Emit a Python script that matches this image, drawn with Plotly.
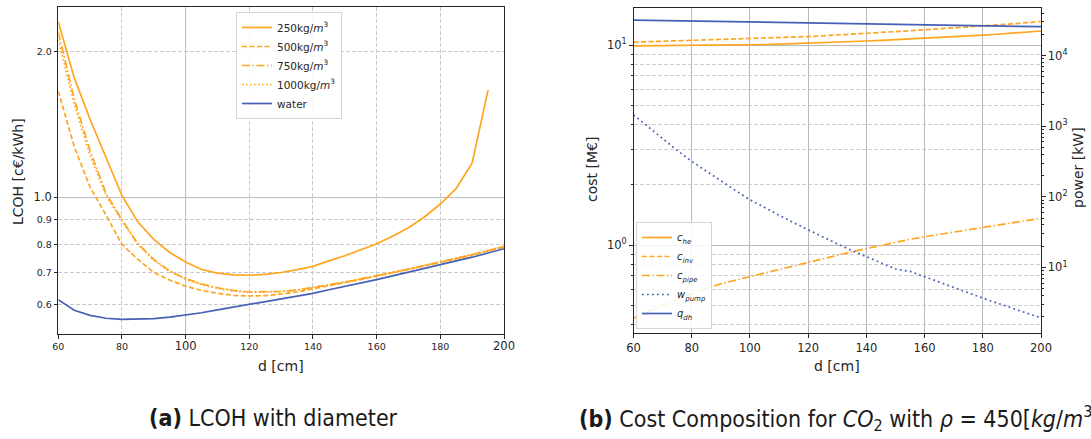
import plotly.graph_objects as go

# ---------------- data ----------------
d_cm = [60, 65, 70, 75, 80, 85, 90, 95, 100, 105, 110, 115, 120, 125, 130,
        135, 140, 145, 150, 155, 160, 165, 170, 175, 180, 185, 190, 195, 200]

lcoh_250 = [2.31, 1.77, 1.45, 1.21, 1.01, 0.89, 0.82, 0.77, 0.736, 0.71, 0.698, 0.692, 0.691, 0.694,
            0.70, 0.71, 0.721, 0.74, 0.758, 0.78, 0.803, 0.832, 0.866, 0.912, 0.97, 1.045, 1.18, 1.67, None]
lcoh_500 = [1.66, 1.275, 1.05, 0.92, 0.80, 0.745, 0.70, 0.675, 0.656, 0.643, 0.634, 0.628, 0.626, 0.627,
            0.632, 0.638, 0.648, 0.657, 0.667, 0.677, 0.688, 0.699, 0.71, 0.722, 0.734, 0.747, 0.761, 0.776, 0.791]
lcoh_750 = [2.2, 1.6, 1.25, 1.02, 0.90, 0.803, 0.745, 0.705, 0.68, 0.663, 0.651, 0.643, 0.638, 0.638,
            0.64, 0.644, 0.652, 0.66, 0.669, 0.679, 0.689, 0.70, 0.711, 0.723, 0.735, 0.748, 0.762, 0.777, 0.792]
lcoh_1000 = [2.12, 1.56, 1.22, 1.01, 0.895, 0.80, 0.742, 0.703, 0.678, 0.661, 0.649, 0.641, 0.637, 0.637,
             0.639, 0.644, 0.651, 0.66, 0.669, 0.679, 0.689, 0.70, 0.712, 0.724, 0.736, 0.749, 0.763, 0.778, 0.793]
lcoh_water = [0.615, 0.585, 0.571, 0.563, 0.560, 0.560, 0.562, 0.566, 0.571, 0.578, 0.586, 0.594, 0.602, 0.610,
              0.617, 0.626, 0.634, 0.645, 0.655, 0.666, 0.677, 0.689, 0.701, 0.713, 0.725, 0.739, 0.753, 0.768, 0.784]

c_he = [9.9, 9.91, 9.92, 9.93, 9.95, 9.96, 9.98, 10.0, 10.03, 10.06, 10.1, 10.15, 10.2, 10.26, 10.32,
        10.39, 10.47, 10.55, 10.63, 10.71, 10.8, 10.9, 11.0, 11.1, 11.2, 11.32, 11.45, 11.6, 11.75]
c_pipe = [0.43, 0.465, 0.50, 0.535, 0.57, 0.605, 0.64, 0.667, 0.696, 0.727, 0.758, 0.79, 0.822, 0.855, 0.89,
          0.925, 0.96, 0.997, 1.035, 1.068, 1.10, 1.13, 1.162, 1.194, 1.225, 1.26, 1.295, 1.328, 1.36]
c_inv = [10.33, 10.38, 10.42, 10.47, 10.52, 10.57, 10.62, 10.67, 10.73, 10.79, 10.86, 10.94, 11.02, 11.12, 11.21,
         11.32, 11.43, 11.55, 11.67, 11.78, 11.9, 12.03, 12.16, 12.29, 12.43, 12.58, 12.75, 12.93, 13.11]
w_pump = [1445, 975, 660, 455, 318, 230, 166, 123, 91, 70, 55, 43, 34, 27, 21.6,
          17.4, 14.1, 11.6, 9.5, 8.8, 7.4, 6.2, 5.1, 4.35, 3.68, 3.13, 2.66, 2.26, 1.93]
q_dh = [31800, 31550, 31300, 31050, 30800, 30550, 30300, 30050, 29800, 29550, 29300, 29050, 28800, 28550, 28300,
        28100, 27900, 27700, 27500, 27350, 27200, 27000, 26800, 26600, 26400, 26200, 26000, 25800, 25600]

lcoh_names = ["250kg/<i>m</i><sup>3</sup>", "500kg/<i>m</i><sup>3</sup>",
              "750kg/<i>m</i><sup>3</sup>", "1000kg/<i>m</i><sup>3</sup>", "water"]
cost_names = ["<i>c<sub>he</sub></i>", "<i>c<sub>inv</sub></i>", "<i>c<sub>pipe</sub></i>",
              "<i>w<sub>pump</sub></i>", "<i>q<sub>dh</sub></i>"]

left_x_ticks = [60, 80, 100, 120, 140, 160, 180, 200]
left_x_major = [100, 200]
left_y_ticks = [0.6, 0.7, 0.8, 0.9, 1.0, 2.0]
left_y_major = [1.0]
right_x_ticks = [60, 80, 100, 120, 140, 160, 180, 200]
cost_major = [1, 10]
cost_minor = [0.4, 0.5, 0.6, 0.7, 0.8, 0.9, 2, 3, 4, 5, 6, 7, 8, 9]
power_major = [10, 100, 1000, 10000]
power_minor = [m * 10 ** e for e in range(0, 5) for m in range(2, 10)]

# ---------------- style ----------------
ORANGE = "#ffa51f"
BLUE = "#4660b5"
FONT = "DejaVu Sans"
W, H = 1091, 439
LW = 1.7
GRID = "#b9b9b9"
AX = "#262626"

fig = go.Figure()

dashes = ["solid", "5px,2.5px", "8px,2.5px,1.5px,2.5px", "1.6px,2.4px"]
for name, ys, dsh in zip(lcoh_names[:4], [lcoh_250, lcoh_500, lcoh_750, lcoh_1000], dashes):
    fig.add_trace(go.Scatter(x=d_cm, y=ys, name=name, mode="lines",
                             line=dict(color=ORANGE, width=LW, dash=dsh),
                             xaxis="x", yaxis="y", legend="legend"))
fig.add_trace(go.Scatter(x=d_cm, y=lcoh_water, name=lcoh_names[4], mode="lines",
                         line=dict(color=BLUE, width=LW), xaxis="x", yaxis="y", legend="legend"))

fig.add_trace(go.Scatter(x=d_cm, y=c_he, name=cost_names[0], mode="lines",
                         line=dict(color=ORANGE, width=LW), xaxis="x2", yaxis="y2", legend="legend2"))
fig.add_trace(go.Scatter(x=d_cm, y=c_inv, name=cost_names[1], mode="lines",
                         line=dict(color=ORANGE, width=LW, dash="5px,2.5px"), xaxis="x2", yaxis="y2", legend="legend2"))
fig.add_trace(go.Scatter(x=d_cm, y=c_pipe, name=cost_names[2], mode="lines",
                         line=dict(color=ORANGE, width=LW, dash="8px,2.5px,1.5px,2.5px"), xaxis="x2", yaxis="y2", legend="legend2"))
fig.add_trace(go.Scatter(x=d_cm, y=w_pump, name=cost_names[3], mode="lines",
                         line=dict(color=BLUE, width=LW, dash="1.8px,3.2px"), xaxis="x2", yaxis="y3", legend="legend2"))
fig.add_trace(go.Scatter(x=d_cm, y=q_dh, name=cost_names[4], mode="lines",
                         line=dict(color=BLUE, width=LW), xaxis="x2", yaxis="y3", legend="legend2"))


def lab(v, major, fmt):
    s = fmt(v)
    return f"<span style='font-size:11.5px'>{s}</span>" if v in major else s


axis_common = dict(showline=True, linecolor=AX, linewidth=1, mirror=True, ticks="outside",
                   tickcolor=AX, ticklen=3.5, tickwidth=1, zeroline=False, automargin=False)

fig.update_layout(
    width=W, height=H, margin=dict(l=0, r=0, t=0, b=0, pad=0, autoexpand=False),
    paper_bgcolor="white", plot_bgcolor="white",
    font=dict(family=FONT, color="#262626"),
    xaxis=dict(domain=[58.3 / W, 504 / W], anchor="y", range=[60, 200],
               tickmode="array", tickvals=left_x_ticks,
               ticktext=[lab(v, left_x_major, lambda t: str(t)) for v in left_x_ticks],
               tickfont=dict(size=9.5, family=FONT), showgrid=False,
               minor=dict(tickvals=[v for v in left_x_ticks if v not in left_x_major],
                          showgrid=True, gridcolor="#c9c9c9", griddash="4px,2px", gridwidth=1, ticks=""),
               **axis_common),
    yaxis=dict(domain=[1 - 334.3 / H, 1 - 7.3 / H], anchor="x", type="log",
               range=[-0.2826, 0.3934], tickmode="array", tickvals=left_y_ticks,
               ticktext=[lab(v, left_y_major, lambda t: f"{t:.1f}") for v in left_y_ticks],
               tickfont=dict(size=9.5, family=FONT), showgrid=False,
               minor=dict(tickvals=[v for v in left_y_ticks if v not in left_y_major],
                          showgrid=True, gridcolor="#c9c9c9", griddash="4px,2px", gridwidth=1, ticks=""),
               **axis_common),
    xaxis2=dict(domain=[633.5 / W, 1041 / W], anchor="y2", range=[60, 200],
                tickmode="array", tickvals=right_x_ticks,
                tickfont=dict(size=11.5, family=FONT), showgrid=True, gridcolor=GRID, gridwidth=1,
                **axis_common),
    yaxis2=dict(domain=[1 - 333.3 / H, 1 - 7.5 / H], anchor="x2", type="log",
                range=[-0.4415, 1.1875], tickmode="array", tickvals=cost_major,
                ticktext=["10<sup>0</sup>", "10<sup>1</sup>"],
                tickfont=dict(size=11.5, family=FONT), showgrid=True, gridcolor=GRID, gridwidth=1,
                minor=dict(tickvals=cost_minor, showgrid=True, gridcolor="#cfcfcf", griddash="4px,2px",
                           gridwidth=1, ticks="outside", ticklen=2, tickcolor=AX),
                **axis_common),
    yaxis3=dict(overlaying="y2", anchor="x2", side="right", type="log",
                range=[0.068, 4.68], tickmode="array", tickvals=power_major,
                ticktext=["10<sup>1</sup>", "10<sup>2</sup>", "10<sup>3</sup>", "10<sup>4</sup>"],
                tickfont=dict(size=11.5, family=FONT), showgrid=False, showline=True, linecolor=AX,
                ticks="outside", ticklen=3.5, tickcolor=AX, zeroline=False, automargin=False,
                minor=dict(tickvals=power_minor, ticks="outside", ticklen=2, tickcolor=AX, showgrid=False)),
    legend=dict(x=236 / W, y=1 - 12 / H, xanchor="left", yanchor="top",
                bgcolor="rgba(255,255,255,0.85)", bordercolor="#d5d5d5", borderwidth=1,
                font=dict(size=10.5, family=FONT), itemwidth=30, tracegroupgap=0),
    legend2=dict(x=636 / W, y=1 - 329 / H, xanchor="left", yanchor="bottom",
                 bgcolor="rgba(255,255,255,0.85)", bordercolor="#d5d5d5", borderwidth=1,
                 font=dict(size=10, family=FONT), itemwidth=30, tracegroupgap=0),
    showlegend=True,
)

# major (solid) grid lines of the left panel at its major tick values
for v in left_x_major[:1]:
    fig.add_shape(type="line", xref="x", yref="y domain", x0=v, x1=v, y0=0, y1=1,
                  line=dict(color=GRID, width=1), layer="below")
for v in left_y_major:
    fig.add_shape(type="line", xref="x domain", yref="y", x0=0, x1=1, y0=v, y1=v,
                  line=dict(color=GRID, width=1), layer="below")

ann = [
    dict(text="LCOH [c€/kWh]", x=18 / W, y=1 - 172 / H, textangle=-90, size=14),
    dict(text="d [cm]", x=281 / W, y=1 - 366 / H, textangle=0, size=14),
    dict(text="d [cm]", x=837 / W, y=1 - 366 / H, textangle=0, size=14),
    dict(text="cost [M€]", x=592 / W, y=1 - 170 / H, textangle=-90, size=14),
    dict(text="power [kW]", x=1078 / W, y=1 - 168 / H, textangle=-90, size=14),
]
for a in ann:
    fig.add_annotation(text=a["text"], x=a["x"], y=a["y"], xref="paper", yref="paper",
                       xanchor="center", yanchor="middle", textangle=a["textangle"],
                       showarrow=False, font=dict(size=a["size"], family=FONT, color="#262626"))

CAP = "DejaVu Sans Condensed, Liberation Sans Narrow, Liberation Sans, sans-serif"
fig.add_annotation(text="<b>(a)</b> LCOH with diameter", x=147 / W, y=1 - 418 / H,
                   xref="paper", yref="paper", xanchor="left", yanchor="middle", showarrow=False,
                   font=dict(size=23, family=CAP, color="#1a1a1a"))
fig.add_annotation(text="<b>(b)</b> Cost Composition for <i>CO</i><sub>2</sub> with <i>ρ</i> = 450[<i>kg</i>/<i>m</i><sup>3</sup>]",
                   x=577 / W, y=1 - 418 / H,
                   xref="paper", yref="paper", xanchor="left", yanchor="middle", showarrow=False,
                   font=dict(size=23, family=CAP, color="#1a1a1a"))

fig.write_html("out.html", config={"displayModeBar": False},
               post_script="document.body.style.margin='0';document.body.style.overflow='hidden';")
